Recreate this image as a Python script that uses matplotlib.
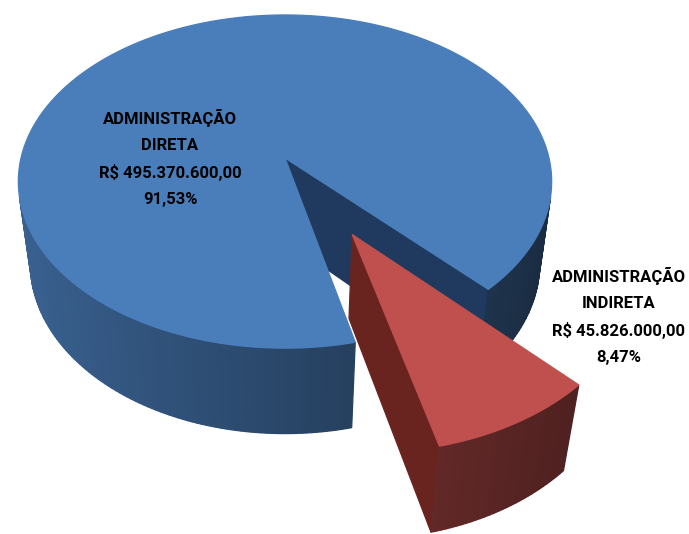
import numpy as np
import matplotlib.pyplot as plt
from matplotlib.colors import to_rgb
from matplotlib.patches import Polygon

# dados do gráfico
labels = ["ADMINISTRAÇÃO\nDIRETA", "ADMINISTRAÇÃO\nINDIRETA"]
values = [495_370_600.00, 45_826_000.00]
value_text = ["R$ 495.370.600,00", "R$ 45.826.000,00"]
pct_text = ["91,53%", "8,47%"]
colors = ["#4A7EBB", "#C0504D"]
side_colors = ["#1F3A5E", "#6A2420"]
explode = [0.0, 0.5]

# "câmera" da pizza 3D (perspectiva simples)
start_angle = -46.25
tilt = np.radians(38.2)
dist = 5.56
scale = 264
cx, cy = 285, 158
thick = 0.415
cam = np.array([0.0, -dist * np.cos(tilt), dist * np.sin(tilt)])


def project(X, Y, Z):
    v = Y * np.sin(tilt) + Z * np.cos(tilt)
    w = Y * np.cos(tilt) - Z * np.sin(tilt)
    f = dist / (dist + w)
    return np.column_stack([cx + scale * X * f, cy - scale * v * f])


def visible(pts, normal):
    c = pts.mean(axis=0)
    return np.dot(normal, cam - c) > 0


def shade(color, k):
    r, g, b = to_rgb(color)
    return (r * k, g * k, b * k)


def draw(ax, pts, color):
    xy = project(pts[:, 0], pts[:, 1], pts[:, 2])
    ax.add_patch(Polygon(xy, closed=True, facecolor=color, edgecolor=color,
                         linewidth=0.9))


fig = plt.figure(figsize=(6.89, 5.34), dpi=100)
ax = fig.add_axes([0, 0, 1, 1])
ax.set_xlim(0, 689)
ax.set_ylim(534, 0)
ax.axis('off')

total = sum(values)
angles = [start_angle]
for v in values:
    angles.append(angles[-1] + 360 * v / total)

order = []
for i in range(len(values)):
    mid = np.radians((angles[i] + angles[i + 1]) / 2)
    depth = (explode[i] + 0.5) * np.sin(mid)
    order.append((-depth, i))
order.sort()

for _, i in order:
    a0, a1 = np.radians(angles[i]), np.radians(angles[i + 1])
    mid = (a0 + a1) / 2
    ox, oy = explode[i] * np.cos(mid), explode[i] * np.sin(mid)
    th = np.linspace(a0, a1, int(np.degrees(a1 - a0)) + 2)

    # faces de corte
    for a, n in [(a0, np.array([np.sin(a0), -np.cos(a0), 0])),
                 (a1, np.array([-np.sin(a1), np.cos(a1), 0]))]:
        pts = np.array([[ox, oy, 0], [ox + np.cos(a), oy + np.sin(a), 0],
                        [ox + np.cos(a), oy + np.sin(a), -thick], [ox, oy, -thick]])
        if visible(pts, n):
            draw(ax, pts, side_colors[i])

    # parede externa
    for t0, t1 in zip(th[:-1], th[1:]):
        tm = (t0 + t1) / 2
        pts = np.array([[ox + np.cos(t0), oy + np.sin(t0), 0],
                        [ox + np.cos(t1), oy + np.sin(t1), 0],
                        [ox + np.cos(t1), oy + np.sin(t1), -thick],
                        [ox + np.cos(t0), oy + np.sin(t0), -thick]])
        if visible(pts, np.array([np.cos(tm), np.sin(tm), 0])):
            draw(ax, pts, shade(colors[i], 0.56 - 0.22 * np.cos(tm)))

    # topo
    top = np.vstack([[ox, oy, 0],
                     np.column_stack([ox + np.cos(th), oy + np.sin(th), np.zeros_like(th)])])
    draw(ax, top, colors[i])

font = ['Roboto', 'DejaVu Sans']
label_pos = [(170, 158), (619, 316)]
for i in range(len(values)):
    ax.text(label_pos[i][0], label_pos[i][1],
            f"{labels[i]}\n{value_text[i]}\n{pct_text[i]}",
            ha='center', va='center', fontsize=12, fontweight='bold',
            family=font, linespacing=1.85, color='black')

plt.savefig("out.png", dpi=100)
